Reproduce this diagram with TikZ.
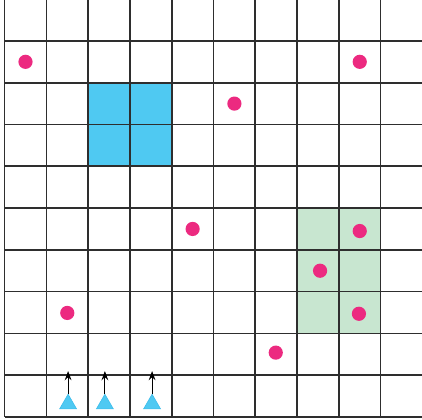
\documentclass[tikz,border=0pt]{standalone}
\usepackage{tikz}
\usetikzlibrary{arrows.meta,positioning,shapes.geometric}
\definecolor{gLine}{HTML}{2E2E2E}
\definecolor{gBlue}{HTML}{4FC9F2}
\definecolor{gGreen}{HTML}{C8E6D0}
\definecolor{gPink}{HTML}{EC2A80}
\definecolor{gTri}{HTML}{3DBDEB}
\tikzset{
  >=Stealth,
  gridln/.style={gLine,line width=1.1pt},
  dot/.style   ={circle,fill=gPink,inner sep=0pt,minimum size=0.34cm},
  tri/.style   ={regular polygon,regular polygon sides=3,fill=gBlue,draw=gTri,line width=0.4pt,inner sep=0pt,minimum size=0.47cm},
  push/.style  ={-{Stealth[length=2.2mm,width=1.6mm]},black,line width=0.7pt},
}
\begin{document}
\begin{tikzpicture}
  \useasboundingbox (-0.11,-0.05) rectangle (9.99,9.98);
  % shaded blocks
  \fill[gBlue]  (2,6) rectangle (4,8);
  \fill[gGreen] (7,2) rectangle (9,5);
  % grid
  \foreach \x in {0,...,9}
    \draw[gridln] (\x,0) -- (\x,10);
  \foreach \y in {0,...,9}
    \draw[gridln] (0,\y) -- (10,\y);
  % dots
  \node[dot] (d1) at (0.5,8.5) {};
  \node[dot] (d2) at (8.5,8.5) {};
  \node[dot] (d3) at (5.5,7.5) {};
  \node[dot] (d4) at (4.5,4.5) {};
  \node[dot] (d5) at (8.5,4.45) {};
  \node[dot] (d6) at (7.55,3.5) {};
  \node[dot] (d7) at (8.48,2.47) {};
  \node[dot] (d8) at (1.5,2.49) {};
  \node[dot] (d9) at (6.49,1.54) {};
  % movers
  \node[tri] (t1) at (1.52,0.31) {};
  \node[tri] (t2) at (2.40,0.31) {};
  \node[tri] (t3) at (3.53,0.31) {};
  \coordinate (a1) at (1.52,1.10);
  \coordinate (a2) at (2.40,1.10);
  \coordinate (a3) at (3.53,1.10);
  \draw[push] (t1.corner 1) -- (a1);
  \draw[push] (t2.corner 1) -- (a2);
  \draw[push] (t3.corner 1) -- (a3);
\end{tikzpicture}
\end{document}
